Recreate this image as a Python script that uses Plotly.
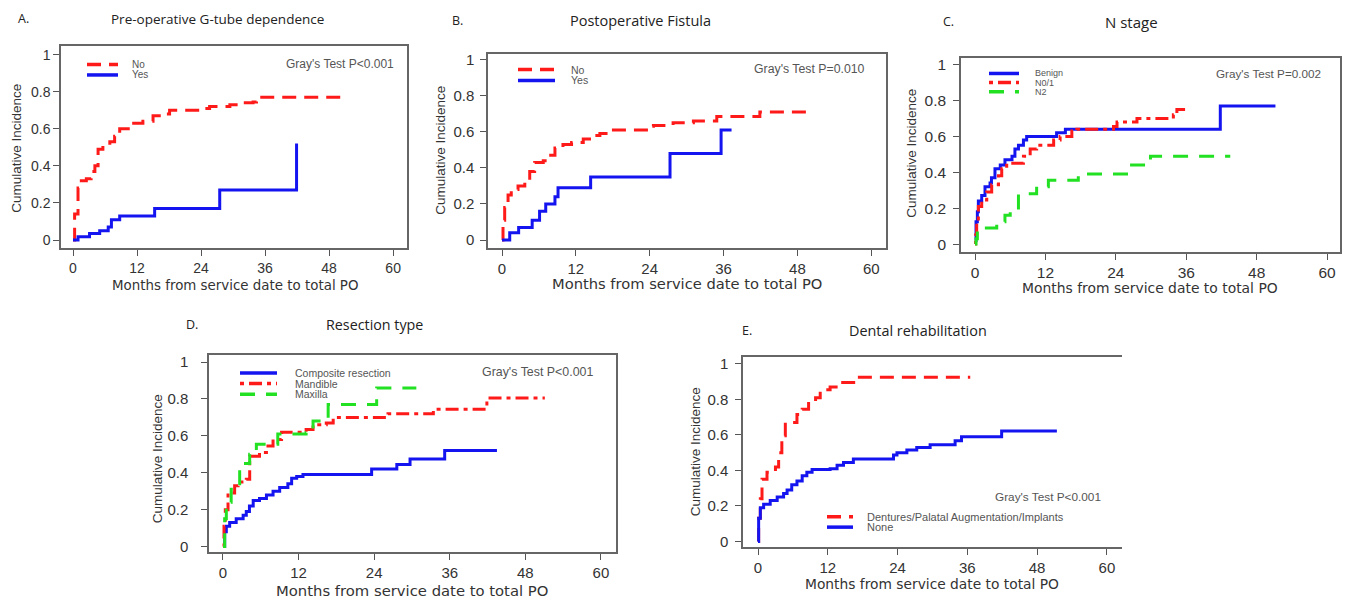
import plotly.graph_objects as go

# ---------------- data (months, cumulative incidence) ----------------
A_no_t = [0, 0.3, 0.94, 1.56, 2.5, 3.4, 4.1, 4.7, 5.6, 6.9, 7.8, 8.75, 10.9, 13.1, 15, 16.9, 18.1, 24.4, 25.6, 29.4, 31.25, 33.75, 34.4, 51.25]
A_no_v = [0, 0.14, 0.28, 0.32, 0.33, 0.37, 0.40, 0.49, 0.51, 0.53, 0.56, 0.60, 0.63, 0.64, 0.67, 0.68, 0.70, 0.71, 0.72, 0.73, 0.74, 0.745, 0.77, 0.77]
A_yes_t = [0, 0.94, 3.1, 5, 6.6, 7.2, 8.75, 15.3, 27.5, 41.9]
A_yes_v = [0, 0.018, 0.035, 0.05, 0.07, 0.11, 0.13, 0.17, 0.27, 0.52]

B_no_t = [0, 0.16, 0.43, 0.98, 1.5, 2.6, 3.7, 4.5, 5.3, 6.7, 7.5, 8.6, 9.9, 11.3, 13.2, 14.5, 15.9, 17.8, 24, 24.6, 27.8, 31.1, 34.9, 41.9, 49.5]
B_no_v = [0, 0.11, 0.18, 0.25, 0.28, 0.30, 0.32, 0.38, 0.43, 0.44, 0.47, 0.51, 0.53, 0.54, 0.56, 0.58, 0.59, 0.61, 0.63, 0.635, 0.65, 0.66, 0.685, 0.71, 0.71]
B_yes_t = [0, 1.25, 2.7, 4.9, 6.1, 7.1, 8.6, 9.1, 14.4, 27.3, 35.6, 37.3]
B_yes_v = [0, 0.04, 0.07, 0.11, 0.16, 0.20, 0.24, 0.29, 0.35, 0.48, 0.61, 0.61]

C_benign_t = [0, 0.17, 0.4, 0.57, 1.14, 1.7, 2.56, 2.8, 3.4, 4.3, 5.1, 6.3, 6.8, 7.4, 8.25, 8.8, 13.9, 15.4, 41.8, 51.2]
C_benign_v = [0.02, 0.125, 0.18, 0.24, 0.27, 0.32, 0.34, 0.37, 0.42, 0.44, 0.47, 0.49, 0.53, 0.55, 0.58, 0.60, 0.62, 0.64, 0.77, 0.77]
C_n01_t = [0, 0.1, 0.28, 0.57, 1.14, 2, 2.84, 4, 4.55, 5.4, 8.25, 9.4, 10.5, 13.4, 14.5, 16.5, 17.35, 23.6, 24.2, 27.6, 33.8, 34.4, 35.8]
C_n01_v = [0, 0.05, 0.14, 0.21, 0.245, 0.29, 0.33, 0.38, 0.42, 0.45, 0.49, 0.53, 0.55, 0.58, 0.60, 0.63, 0.64, 0.655, 0.68, 0.70, 0.72, 0.75, 0.75]
C_n2_t = [0, 0.17, 0.4, 3.7, 5.1, 6, 7.4, 10.5, 12.5, 17.6, 26.2, 29.9, 43.5]
C_n2_v = [0, 0.03, 0.09, 0.125, 0.16, 0.18, 0.28, 0.32, 0.355, 0.39, 0.44, 0.49, 0.49]

D_comp_t = [0, 0.27, 0.53, 1.06, 2.1, 3.2, 3.7, 4.2, 4.8, 5.8, 6.9, 7.95, 9, 10.3, 10.9, 11.7, 12.7, 23.6, 27.6, 29.7, 35.2, 43.5]
D_comp_v = [0, 0.08, 0.11, 0.13, 0.15, 0.17, 0.19, 0.22, 0.25, 0.26, 0.28, 0.30, 0.32, 0.34, 0.37, 0.38, 0.39, 0.42, 0.445, 0.475, 0.52, 0.52]
D_mand_t = [0, 0.16, 0.37, 0.8, 1.85, 2.4, 3.7, 4.24, 5.8, 6.9, 7.95, 9.3, 13.2, 14.3, 16.4, 17.5, 26.2, 33.4, 41.9, 51.1]
D_mand_v = [0, 0.11, 0.20, 0.29, 0.33, 0.35, 0.365, 0.49, 0.51, 0.545, 0.58, 0.62, 0.635, 0.66, 0.67, 0.70, 0.72, 0.745, 0.805, 0.805]
D_max_t = [0, 0.27, 0.53, 1.3, 2.1, 2.65, 4.24, 5.3, 8.7, 13.2, 14.3, 16.7, 24.4, 30.7]
D_max_v = [0, 0.15, 0.24, 0.31, 0.34, 0.45, 0.50, 0.555, 0.61, 0.617, 0.68, 0.77, 0.86, 0.86]

E_dent_t = [0, 0.11, 0.4, 0.69, 1.55, 3, 3.55, 4.1, 4.7, 6.7, 7.6, 8.7, 9.9, 10.7, 12.4, 13.9, 17, 36.5]
E_dent_v = [0, 0.13, 0.24, 0.35, 0.39, 0.42, 0.50, 0.595, 0.67, 0.715, 0.745, 0.79, 0.81, 0.855, 0.87, 0.895, 0.925, 0.925]
E_none_t = [0, 0.11, 0.4, 0.97, 2.1, 3.3, 4.4, 5, 5.8, 6.7, 7.6, 8.4, 9.3, 12.4, 13.6, 14.7, 16.4, 23.3, 23.9, 25.6, 27.3, 29.6, 33.9, 35, 41.9, 51.4]
E_none_v = [0, 0.13, 0.19, 0.21, 0.23, 0.25, 0.27, 0.29, 0.32, 0.34, 0.37, 0.39, 0.405, 0.41, 0.43, 0.445, 0.465, 0.487, 0.50, 0.515, 0.53, 0.545, 0.567, 0.59, 0.623, 0.623]

x_ticks = [0, 12, 24, 36, 48, 60]
y_ticks = [0, 0.2, 0.4, 0.6, 0.8, 1]
y_ticktext = ["0", "0.2", "0.4", "0.6", "0.8", "1"]

panel_letters = ["A.", "B.", "C.", "D.", "E."]
panel_titles = ["Pre-operative G-tube dependence", "Postoperative Fistula", "N stage",
                "Resection type", "Dental rehabilitation"]
gray_tests = ["Gray's Test P<0.001", "Gray's Test P=0.010", "Gray's Test P=0.002",
              "Gray's Test P<0.001", "Gray's Test P<0.001"]
x_title = "Months from service date to total PO"
y_title = "Cumulative Incidence"

RED, BLUE, GREEN = "#ff1a1a", "#1414f0", "#22e022"
DASH = "14px,8px"
DASHDOT = "4px,5px,13px,5px"
LONGDASH = "15px,11px"

series = [
    # panel, name, t, v, color, dash
    (0, "No", A_no_t, A_no_v, RED, DASH),
    (0, "Yes", A_yes_t, A_yes_v, BLUE, "solid"),
    (1, "No", B_no_t, B_no_v, RED, DASH),
    (1, "Yes", B_yes_t, B_yes_v, BLUE, "solid"),
    (2, "Benign", C_benign_t, C_benign_v, BLUE, "solid"),
    (2, "N0/1", C_n01_t, C_n01_v, RED, DASHDOT),
    (2, "N2", C_n2_t, C_n2_v, GREEN, LONGDASH),
    (3, "Composite resection", D_comp_t, D_comp_v, BLUE, "solid"),
    (3, "Mandible", D_mand_t, D_mand_v, RED, DASHDOT),
    (3, "Maxilla", D_max_t, D_max_v, GREEN, LONGDASH),
    (4, "Dentures/Palatal Augmentation/Implants", E_dent_t, E_dent_v, RED, DASH),
    (4, "None", E_none_t, E_none_v, BLUE, "solid"),
]

# page has an 8px body margin; the figure is sized to fit inside the window
OFF = 8
W, H = 1350 - OFF, 604 - OFF
def X(px): return (px - OFF) / W
def Y(py): return 1 - (py - OFF) / H

# layout geometry in window pixels (frame box), per panel
frames = [(61, 407, 43, 247), (488, 886, 51, 247), (961, 1340, 55, 251),
          (209, 616, 355, 554), (743, 1122, 357, 549)]
x_ranges = [(-2.25, 62.6), (-2.28, 62.4), (-2.39, 62.2), (-2.22, 62.4), (-2.58, 62.6)]
y_ranges = [(-0.043, 1.048), (-0.044, 1.033), (-0.044, 1.039), (-0.032, 1.038), (-0.034, 1.039)]
tick_sizes = [14, 15, 15.5, 15, 15]
ytick_standoff = [0, 3, 4, 10, 4]
title_sizes = [13.5, 14.5, 15, 14.3, 14.4]
xtitle_sizes = [13.4, 14.7, 13.9, 14.8, 13.8]
gray_sizes = [12, 12.3, 11.7, 12.4, 11.8]
legend_sizes = [10, 10.5, 9, 10.5, 11]
letter_pos = [(23, 16), (457, 18), (948, 19), (192, 324), (747, 330)]
title_pos = [(217, 16), (640, 18), (1131, 19), (374, 324), (918, 330)]
xtitle_pos = [(235, 285), (687, 283), (1150, 287), (412, 592), (932, 586)]
ytitle_pos = [(17, 147), (441, 149), (912, 152), (157, 460), (695, 453)]
gray_pos = [(340, 61), (810, 66), (1268, 71), (537, 372), (1048, 498)]
# legend: (x0, x1, first row y, row step, text x)
legend_geom = [(87, 118, 62, 10.5, 130), (518, 555, 67, 11, 569), (989, 1019, 71, 9.2, 1033),
               (240, 277, 373, 10.7, 293), (827, 853, 518, 10.5, 865)]

fig = go.Figure()
for p, name, t, v, color, dash in series:
    sfx = "" if p == 0 else str(p + 1)
    fig.add_trace(go.Scatter(x=t, y=v, mode="lines", name=name, line_shape="hv",
                             line=dict(color=color, width=3, dash=dash),
                             xaxis="x" + sfx, yaxis="y" + sfx, showlegend=False,
                             hoverinfo="skip"))

FONT = "Liberation Sans, Arial, sans-serif"
WFONT = "DejaVu Sans, Verdana, sans-serif"
TFONT = "Open Sans, Liberation Sans, sans-serif"
annotations = []
shapes = []

def note(px, py, text, size, color="#333", family=FONT, xanchor="center", angle=0):
    annotations.append(dict(x=X(px), y=Y(py), text=text, showarrow=False,
                            xref="paper", yref="paper", xanchor=xanchor, yanchor="middle",
                            textangle=angle,
                            font=dict(size=size, color=color, family=family)))

for i in range(5):
    sfx = "" if i == 0 else str(i + 1)
    x0, x1, y0, y1 = frames[i]
    fig.update_layout(**{
        "xaxis" + sfx: dict(domain=[X(x0), X(x1)], range=list(x_ranges[i]), tickvals=x_ticks,
                            ticks="outside", ticklen=6, tickcolor="#555", showline=True,
                            mirror=True, linecolor="#666", linewidth=1.5, showgrid=False,
                            zeroline=False, anchor="y" + sfx,
                            tickfont=dict(size=tick_sizes[i], color="#333", family=FONT)),
        "yaxis" + sfx: dict(domain=[Y(y1), Y(y0)], range=list(y_ranges[i]), tickvals=y_ticks,
                            ticktext=y_ticktext, ticklabelstandoff=ytick_standoff[i],
                            ticks="outside", ticklen=6, tickcolor="#555", showline=True,
                            mirror=(i != 4), linecolor="#666", linewidth=1.5, showgrid=False,
                            zeroline=False, anchor="x" + sfx,
                            tickfont=dict(size=tick_sizes[i], color="#333", family=FONT)),
    })
    note(*letter_pos[i], panel_letters[i], 12.5, color="#222", family=TFONT)
    note(*title_pos[i], panel_titles[i], title_sizes[i], color="#222", family=TFONT)
    note(*xtitle_pos[i], x_title, xtitle_sizes[i], family=WFONT)
    note(*ytitle_pos[i], y_title, 13.5, angle=-90)
    note(*gray_pos[i], gray_tests[i], gray_sizes[i], color="#555")
    # legend keys
    lx0, lx1, ly, step, tx = legend_geom[i]
    k = 0
    for p, name, t, v, color, dash in series:
        if p != i:
            continue
        yy = ly + k * step
        shapes.append(dict(type="line", xref="paper", yref="paper", x0=X(lx0), x1=X(lx1),
                           y0=Y(yy), y1=Y(yy), line=dict(color=color, width=3.5, dash=dash)))
        note(tx, yy, name, legend_sizes[i], color="#555", xanchor="left")
        k += 1

fig.update_layout(width=W, height=H, margin=dict(l=0, r=0, t=0, b=0),
                  plot_bgcolor="white", paper_bgcolor="white", showlegend=False,
                  annotations=annotations, shapes=shapes)
fig.write_html("out.html")
